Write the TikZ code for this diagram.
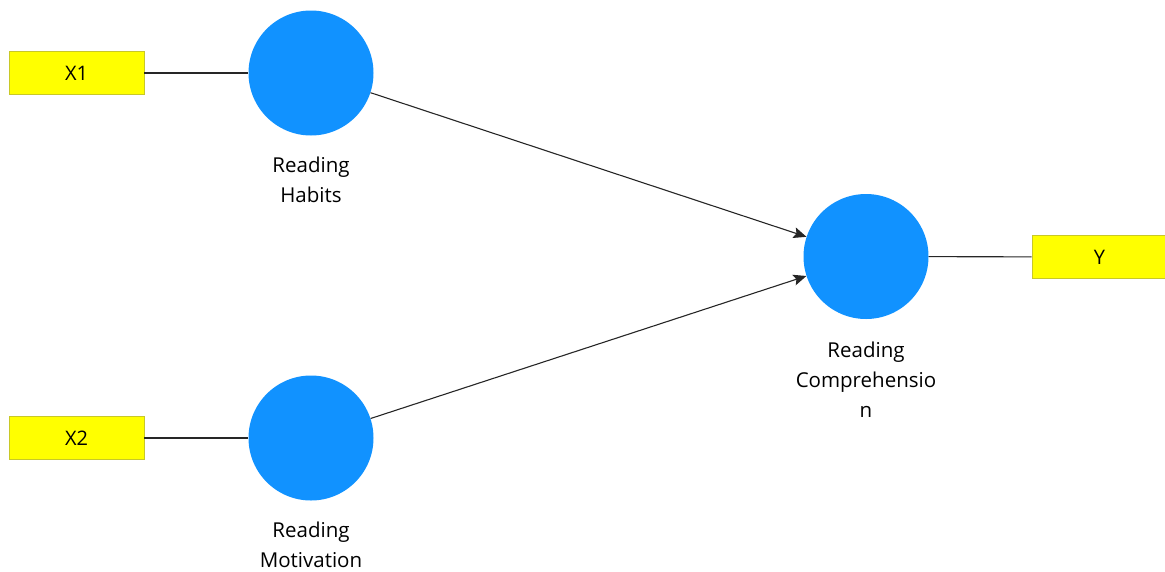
\documentclass[tikz,border=0pt]{standalone}
\usepackage{fontspec}
\setmainfont{Open Sans}
\usetikzlibrary{arrows.meta}
\definecolor{lvblue}{RGB}{17,146,255}
\definecolor{mvyellow}{RGB}{255,255,0}
\definecolor{mvborder}{RGB}{200,200,40}
\begin{document}
\begin{tikzpicture}[x=1pt,y=-1pt,
  latent/.style={circle,fill=lvblue,draw=none,minimum size=125pt,inner sep=0pt},
  manifest/.style={rectangle,fill=mvyellow,draw=mvborder,line width=0.8pt,minimum width=135pt,minimum height=43pt,inner sep=0pt,font=\fontsize{20}{22}\selectfont},
  lbl/.style={align=center,font=\fontsize{20.5}{30}\selectfont,inner sep=0pt,anchor=north},
  link/.style={draw=black!85,line width=1.1pt},
  path/.style={link,-{Stealth[length=13pt,width=11pt,inset=2.5pt]}}]
\useasboundingbox (0,0) rectangle (1165,571);
\node[manifest] (x1) at (76.5,73) {X1};
\node[manifest] (x2) at (76.5,438) {X2};
\node[manifest] (y) at (1099.5,257) {Y};
\node[latent] (hb) at (311,73) {};
\node[latent] (rm) at (311,438) {};
\node[latent] (rc) at (866,256.5) {};
\node[lbl] (hbl) at (311,157) {Reading\\Habits};
\node[lbl] (rml) at (311,522) {Reading\\Motivation};
\node[lbl] (rcl) at (866,342) {Reading\\Comprehensio\\n};
\draw[link] (x1) -- (hb);
\draw[link] (x2) -- (rm);
\draw[link] (rc) -- (y);
\draw[path] (hb) -- (rc);
\draw[path] (rm) -- (rc);
\end{tikzpicture}
\end{document}
